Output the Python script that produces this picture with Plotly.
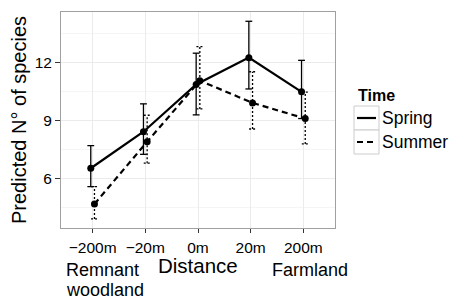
import plotly.graph_objects as go

# ---- data ----
distances = ["\u2212200m", "\u221220m", "0m", "20m", "200m"]
spring_mean = [6.52, 8.41, 10.85, 12.24, 10.47]
spring_upper = [7.69, 9.85, 12.47, 14.12, 12.10]
spring_lower = [5.57, 7.24, 9.28, 10.62, 9.09]
summer_mean = [4.67, 7.89, 11.05, 9.90, 9.09]
summer_upper = [5.57, 9.26, 12.81, 11.51, 10.46]
summer_lower = [3.90, 6.78, 9.59, 8.55, 7.78]
series_names = ["Spring", "Summer"]

FONT = "Liberation Sans, Arial, sans-serif"
DODGE = 0.035
CAP = 0.065

W, H = 451, 300
ML, MR, MT, MB = 61, 116, 12, 72
PW, PH = W - ML - MR, H - MT - MB


def px(x):
    return (x - ML) / PW


def py(y):
    return (H - MB - y) / PH


idx = list(range(1, len(distances) + 1))


def errbar_xy(xs, lo, hi, cap):
    ex, ey = [], []
    for x, l, h in zip(xs, lo, hi):
        ex += [x, x, None, x - cap, x + cap, None, x - cap, x + cap, None]
        ey += [l, h, None, h, h, None, l, l, None]
    return ex, ey


fig = go.Figure()

line_dash = {"Spring": "solid", "Summer": "6px,4px"}
err_dash = {"Spring": "solid", "Summer": "2px,2px"}
series = [
    ("Spring", spring_mean, spring_lower, spring_upper, -DODGE),
    ("Summer", summer_mean, summer_lower, summer_upper, DODGE),
]

for name, mean, lo, hi, off in series:
    xs = [i + off for i in idx]
    ex, ey = errbar_xy(xs, lo, hi, CAP)
    fig.add_trace(go.Scatter(x=ex, y=ey, mode="lines", showlegend=False,
                             line=dict(color="black", width=1.3, dash=err_dash[name]),
                             hoverinfo="skip"))
    fig.add_trace(go.Scatter(x=xs, y=mean, mode="lines", name=name, showlegend=False,
                             line=dict(color="black", width=2.2, dash=line_dash[name])))
    fig.add_trace(go.Scatter(x=xs, y=mean, mode="markers", showlegend=False,
                             marker=dict(color="black", size=7)))

fig.update_layout(
    width=W, height=H,
    margin=dict(l=ML, r=MR, t=MT, b=MB),
    paper_bgcolor="white", plot_bgcolor="white",
    font=dict(family=FONT, color="black", size=15),
    showlegend=False,
    xaxis=dict(
        range=[0.4, 5.6], tickmode="array", tickvals=idx, ticktext=distances,
        showgrid=True, gridcolor="#ebebeb", gridwidth=1,
        showline=True, mirror=True, linecolor="#a0a0a0", linewidth=1,
        ticks="outside", ticklen=4, tickcolor="#333333",
        tickfont=dict(size=15.5, color="black"), zeroline=False,
        ticklabelstandoff=1, automargin=False,
    ),
    yaxis=dict(
        range=[3.43, 14.6], tickmode="linear", tick0=0, dtick=3,
        showgrid=True, gridcolor="#ebebeb", gridwidth=1,
        minor=dict(dtick=1.5, tick0=0, showgrid=True, gridcolor="#f5f5f5", gridwidth=1),
        showline=True, mirror=True, linecolor="#a0a0a0", linewidth=1,
        ticks="outside", ticklen=5, tickcolor="#333333",
        tickfont=dict(size=15.5, color="black"), zeroline=False, automargin=False,
        title=dict(text="Predicted N\u00b0 of species", font=dict(size=20), standoff=2),
    ),
)

# x-axis title and end labels
fig.add_annotation(text="Distance", xref="paper", yref="paper", x=0.5, y=py(265),
                   xanchor="center", yanchor="middle", showarrow=False, font=dict(size=20.5))
fig.add_annotation(text="Remnant", xref="paper", yref="paper", x=px(64), y=py(270),
                   xanchor="left", yanchor="middle", showarrow=False, font=dict(size=18))
fig.add_annotation(text="woodland", xref="paper", yref="paper", x=px(64), y=py(290),
                   xanchor="left", yanchor="middle", showarrow=False, font=dict(size=18))
fig.add_annotation(text="Farmland", xref="paper", yref="paper", x=px(350), y=py(270),
                   xanchor="right", yanchor="middle", showarrow=False, font=dict(size=18))

# legend (ggplot style keys)
fig.add_annotation(text="<b>Time</b>", xref="paper", yref="paper", x=px(356), y=py(95),
                   xanchor="left", yanchor="middle", showarrow=False, font=dict(size=16))
key_top = 106
key_h = 24
for k, name in enumerate(series_names):
    y0 = key_top + k * key_h
    fig.add_shape(type="rect", xref="paper", yref="paper",
                  x0=px(354), x1=px(379), y0=py(y0), y1=py(y0 + key_h),
                  line=dict(color="#cccccc", width=1), fillcolor="white", layer="above")
    fig.add_shape(type="line", xref="paper", yref="paper",
                  x0=px(357), x1=px(376), y0=py(y0 + key_h / 2), y1=py(y0 + key_h / 2),
                  line=dict(color="black", width=2.2, dash=line_dash[name]), layer="above")
    fig.add_annotation(text=name, xref="paper", yref="paper", x=px(380), y=py(y0 + key_h / 2),
                       xanchor="left", yanchor="middle", showarrow=False, font=dict(size=17.5))

fig.write_html("out.html", config={"displayModeBar": False},
               post_script="document.body.style.margin='0';document.body.style.padding='0';")
